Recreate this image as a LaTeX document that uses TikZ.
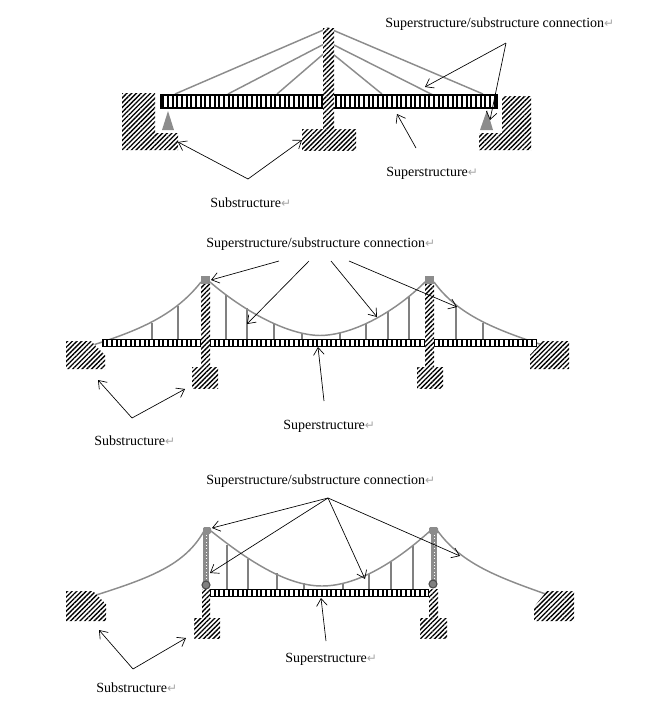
\documentclass[tikz,border=0pt]{standalone}
\usepackage{fontspec}
\setmainfont{Liberation Serif}
\newfontfamily\markfont{DejaVu Sans}
\usetikzlibrary{arrows.meta,patterns.meta}
\newcommand{\retmark}{{\markfont\color{gray!70}\fontsize{9}{10}\selectfont ↵}}
\begin{document}
\begin{tikzpicture}[x=0.75pt,y=-0.75pt]
        \tikzset{hatch/.style={preaction={fill=white},pattern={Lines[angle=45,distance=2.5pt,line width=1pt]}},
          deck/.style={draw,preaction={fill=white},pattern={Lines[angle=90,distance=3.5pt,line width=1.7pt]}},
          cable/.style={draw=gray!90,line width=1.1pt},
          hanger/.style={draw=gray,line width=1.3pt},
          pylon/.style={fill=gray!90},
          pin/.style={fill=gray,draw=gray!60!black,line width=0.8pt},
          arrow/.style={draw,line width=0.5pt,-{Straight Barb[length=5.5pt,width=8pt]}},
          caption/.style={anchor=west,inner sep=0pt,font=\fontsize{10.5}{12}\selectfont}}
        \useasboundingbox (0,0) rectangle (645,701);

        % cable stayed
        \draw[cable] (175,94) -- (328,28) -- (483,94);
        \draw[cable] (228,94) -- (328,42) -- (433,95);
        \draw[cable] (277,94) -- (328,50) -- (382,94);
        \path[deck,line width=1.1pt] (161,95) rectangle (497,108);
        \path[hatch] (122,93) -- (155,93) -- (155,133) -- (178,133) -- (178,150) -- (122,150) -- cycle;
        \path[hatch] (502,96) -- (531,96) -- (531,150) -- (479,150) -- (479,133) -- (502,133) -- cycle;
        \path[hatch] (323,28) rectangle (334,129);
        \path[hatch] (302,129) rectangle (356,150);
        \path[pylon] (168,111) -- (174,130) -- (162,130) -- cycle;
        \path[pylon] (487,110) -- (493,130) -- (480,130) -- cycle;
        \node[caption] (conna) at (385,24) {Superstructure/substructure connection\retmark};
        \node[caption] (supera) at (386,173) {Superstructure\retmark};
        \node[caption] (suba) at (210,203) {Substructure\retmark};
        \coordinate (connfoota) at (506,43);
        \coordinate (connheada) at (425,87);
        \coordinate (connheadb) at (490,120);
        \coordinate (superfoota) at (416,148);
        \coordinate (superheada) at (397,114);
        \coordinate (subfoota) at (248,179);
        \coordinate (subheada) at (178,142);
        \coordinate (subheadb) at (302,140);
        \draw[arrow] (connfoota) -- (connheada);
        \draw[arrow] (connfoota) -- (connheadb);
        \draw[arrow] (superfoota) -- (superheada);
        \draw[arrow] (subfoota) -- (subheada);
        \draw[arrow] (subfoota) -- (subheadb);

        % suspension, deck over the towers
        \foreach \x/\y in {152/323,178/306,226/295,247/308,274/323,302/333,340/333,366/323,388/311,409/296,456/306,483/323}
          \draw[hanger] (\x,\y) -- (\x,339);
        \draw[cable] (93,345) .. controls (140,330) and (175,315) .. (201,282);
        \draw[cable] (210,282) .. controls (240,308) and (285,335) .. (320,335.5) .. controls (355,335) and (397,310) .. (425,282);
        \draw[cable] (434,282) .. controls (458,315) and (495,330) .. (552,348);
        \path[deck] (102,339.5) rectangle (536,346.5);
        \path[hatch] (201,284) rectangle (210,367);
        \path[hatch] (425,284) rectangle (434,367);
        \path[hatch] (192,367) rectangle (218,388);
        \path[hatch] (417,367) rectangle (443,388);
        \path[hatch] (66,341) -- (91,341) -- (105,355) -- (105,369) -- (66,369) -- cycle;
        \path[hatch] (530,355) -- (543,341) -- (569,341) -- (569,369) -- (530,369) -- cycle;
        \path[pylon] (201,276) rectangle (210,284);
        \path[pylon] (425,276) rectangle (434,284);
        \node[caption] (connb) at (206,244) {Superstructure/substructure connection\retmark};
        \node[caption] (superb) at (283,426) {Superstructure\retmark};
        \node[caption] (subb) at (94,441) {Substructure\retmark};
        \coordinate (connfootb) at (279,261);
        \coordinate (connfootc) at (309,261);
        \coordinate (connfootd) at (331,261);
        \coordinate (connfoote) at (349,261);
        \coordinate (connheadc) at (211,280);
        \coordinate (connheadd) at (247,324);
        \coordinate (connheade) at (377,317);
        \coordinate (connheadf) at (457,307);
        \coordinate (superfootb) at (324,401);
        \coordinate (superheadb) at (318,347);
        \coordinate (subfootb) at (132,418);
        \coordinate (subheadc) at (98,380);
        \coordinate (subheadd) at (185,389);
        \draw[arrow] (connfootb) -- (connheadc);
        \draw[arrow] (connfootc) -- (connheadd);
        \draw[arrow] (connfootd) -- (connheade);
        \draw[arrow] (connfoote) -- (connheadf);
        \draw[arrow] (superfootb) -- (superheadb);
        \draw[arrow] (subfootb) -- (subheadc);
        \draw[arrow] (subfootb) -- (subheadd);

        % suspension, deck between the towers
        \foreach \x/\y in {227/545,248/559,277/573,304/583,343/583,369/574,391/562,413/545}
          \draw[hanger] (\x,\y) -- (\x,589);
        \draw[cable] (93,596) .. controls (150,578) and (185,565) .. (204,531);
        \draw[cable] (211,531) .. controls (245,558) and (285,586) .. (322,586) .. controls (360,586) and (400,558) .. (430,531);
        \draw[cable] (437,530) .. controls (462,565) and (500,578) .. (557,598);
        \path[deck] (202,589.5) rectangle (434,596.5);
        \path[hatch] (202,589) rectangle (210,618);
        \path[hatch] (429,589) rectangle (438,618);
        \path[hatch] (194,618) rectangle (220,638);
        \path[hatch] (420,618) rectangle (447,638);
        \path[hatch] (66,591) -- (93,591) -- (106,604) -- (106,621) -- (66,621) -- cycle;
        \path[hatch] (534,607) -- (547,591) -- (574,591) -- (574,621) -- (534,621) -- cycle;
        \path[pylon] (203,533) rectangle (209,582);
        \path[pylon] (431,533) rectangle (437,582);
        \draw[white,line width=0.5pt,dotted] (206,535) -- (206,580);
        \draw[white,line width=0.5pt,dotted] (434,535) -- (434,580);
        \path[pylon,rounded corners=1pt] (203,527) rectangle (211,534);
        \path[pylon,rounded corners=1pt] (429,527) rectangle (438,534);
        \path[pin] (206,585) circle (4);
        \path[pin] (433,584) circle (4);
        \node[caption] (connc) at (206,481) {Superstructure/substructure connection\retmark};
        \node[caption] (superc) at (285,659) {Superstructure\retmark};
        \node[caption] (subc) at (96,688) {Substructure\retmark};
        \coordinate (connfootf) at (328,498);
        \coordinate (connheadg) at (212,528);
        \coordinate (connheadh) at (210,573);
        \coordinate (connheadi) at (365,579);
        \coordinate (connheadj) at (460,556);
        \coordinate (superfootc) at (326,641);
        \coordinate (superheadc) at (321,598);
        \coordinate (subfootc) at (133,669);
        \coordinate (subheade) at (99,630);
        \coordinate (subheadf) at (186,638);
        \draw[arrow] (connfootf) -- (connheadg);
        \draw[arrow] (connfootf) -- (connheadh);
        \draw[arrow] (connfootf) -- (connheadi);
        \draw[arrow] (connfootf) -- (connheadj);
        \draw[arrow] (superfootc) -- (superheadc);
        \draw[arrow] (subfootc) -- (subheade);
        \draw[arrow] (subfootc) -- (subheadf);
\end{tikzpicture}
\end{document}
